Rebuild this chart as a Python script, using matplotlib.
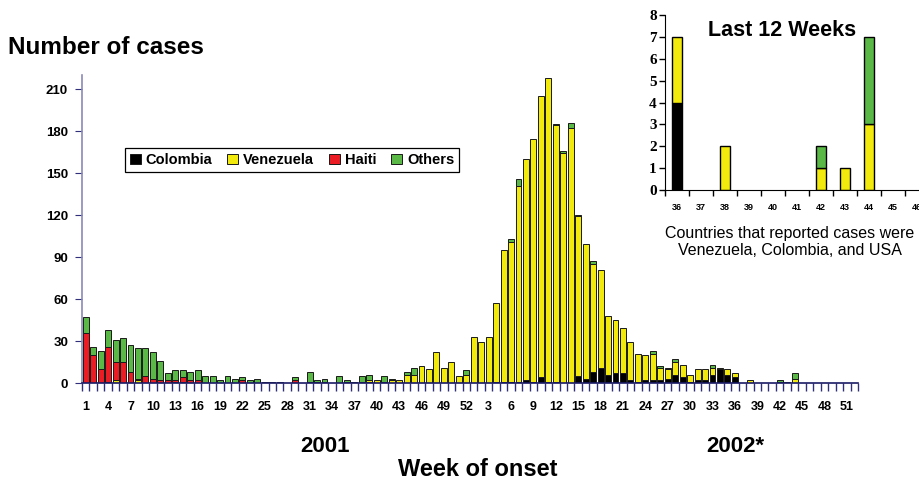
import matplotlib.pyplot as plt
import numpy as np

# weekly cases, weeks 1-52 of 2001 and 1-52 of 2002
colombia_2001 = [0, 0, 0, 0, 0, 0, 0, 0, 0, 0,
                 0, 0, 0, 0, 0, 0, 0, 0, 0, 0,
                 0, 0, 0, 0, 0, 0, 0, 0, 0, 0,
                 0, 1, 0, 0, 0, 0, 0, 0, 1, 0,
                 0, 0, 0, 0, 0, 0, 0, 0, 0, 0,
                 0, 0]
venezuela_2001 = [0, 0, 0, 1, 2, 0, 0, 2, 0, 0,
                  0, 0, 1, 1, 0, 0, 0, 0, 0, 0,
                  0, 0, 0, 0, 0, 0, 0, 0, 0, 0,
                  0, 0, 0, 0, 0, 1, 0, 1, 1, 2,
                  1, 2, 2, 6, 6, 12, 10, 22, 11, 15,
                  5, 6]
haiti_2001 = [36, 20, 10, 25, 13, 15, 8, 1, 5, 3,
              2, 2, 1, 3, 2, 2, 0, 0, 0, 0,
              0, 2, 0, 0, 0, 0, 0, 0, 2, 0,
              1, 0, 1, 0, 0, 0, 0, 0, 0, 0,
              0, 0, 0, 0, 0, 0, 0, 0, 0, 0,
              0, 0]
others_2001 = [11, 6, 13, 12, 16, 17, 19, 22, 20, 19,
               14, 5, 7, 5, 6, 7, 5, 5, 2, 5,
               3, 2, 2, 3, 1, 1, 1, 0, 2, 0,
               7, 1, 2, 0, 5, 1, 1, 4, 4, 0,
               4, 1, 0, 2, 5, 0, 0, 0, 0, 0,
               0, 3]

colombia_2002 = [0, 0, 0, 1, 1, 1, 1, 2, 1, 4,
                 1, 1, 0, 0, 5, 3, 8, 11, 6, 7,
                 7, 2, 1, 2, 2, 2, 3, 6, 4, 1,
                 2, 2, 6, 10, 6, 4, 0, 0, 0, 0,
                 0, 0, 0, 0, 0, 0, 0, 0, 0, 0,
                 0, 0]
venezuela_2002 = [33, 29, 33, 56, 94, 100, 140, 158, 173, 201,
                  217, 183, 164, 182, 114, 96, 77, 70, 42, 38,
                  32, 27, 20, 18, 19, 9, 7, 9, 9, 5,
                  8, 8, 5, 1, 4, 3, 0, 2, 0, 0,
                  0, 1, 1, 3, 0, 0, 0, 0, 0, 0,
                  0, 0]
haiti_2002 = [0] * 52
others_2002 = [0, 0, 0, 0, 0, 2, 5, 0, 0, 0,
               0, 1, 2, 4, 1, 0, 2, 0, 0, 0,
               0, 0, 0, 0, 2, 1, 1, 2, 0, 0,
               0, 0, 2, 0, 0, 0, 0, 0, 0, 0,
               0, 1, 0, 4, 0, 0, 0, 0, 0, 0,
               0, 0]

weeks = list(range(1, 53)) + list(range(1, 53))
countries = ['Colombia', 'Venezuela', 'Haiti', 'Others']
colors = ['#000000', '#f2ea0c', '#ec1c24', '#5ab946']

# inset: last 12 weeks of 2002
inset_weeks = list(range(36, 48))

series = [colombia_2001 + colombia_2002,
          venezuela_2001 + venezuela_2002,
          haiti_2001 + haiti_2002,
          others_2001 + others_2002]

plt.rcParams['font.family'] = ['Liberation Sans', 'DejaVu Sans']
plt.rcParams['font.weight'] = 'bold'

W, H = 920, 483
fig = plt.figure(figsize=(W / 100, H / 100), dpi=100)


def fx(px):
    return px / W


def fy(py):
    return 1 - py / H


def stacked(axis, xs, data, width, lw, edge):
    bottom = np.zeros(len(xs))
    out = []
    for name, vals, col in zip(countries, data, colors):
        vals = np.array(vals, dtype=float)
        keep = vals > 0  # no outline for empty segments
        b = axis.bar(xs[keep], vals[keep], width, bottom=bottom[keep], color=col,
                     edgecolor=edge, linewidth=lw, label=name)
        out.append(b)
        bottom += vals
    return out


ax = fig.add_axes([fx(82), fy(383), 776 / W, 308 / H])
x = np.arange(len(weeks))
handles = stacked(ax, x, series, 0.8, 0.7, '#1a1a1a')

ax.set_xlim(-0.5, len(weeks) - 0.5)
ax.set_ylim(0, 220)
ax.set_yticks(range(0, 211, 30))
ax.set_xticks(x[::3])
ax.set_xticklabels([str(weeks[i]) for i in x[::3]])
ax.set_xticks(np.arange(-0.5, len(weeks), 1), minor=True)
ax.tick_params(axis='x', which='major', length=0, pad=13, labelsize=9)
ax.tick_params(axis='x', which='minor', length=6, color='#30307a', width=1)
ax.tick_params(axis='y', length=5, color='#30307a', pad=5, labelsize=9.5)
for s in ['top', 'right']:
    ax.spines[s].set_visible(False)
ax.spines['bottom'].set_color('#1a1a66')
ax.spines['bottom'].set_linewidth(1.2)
ax.spines['left'].set_color('#8a8ab8')
ax.spines['left'].set_linewidth(1.2)

leg = ax.legend(handles=handles, loc='center', ncol=4,
                bbox_to_anchor=(fx(292), fy(160)), bbox_transform=fig.transFigure,
                fontsize=10.5, handlelength=0.75, handleheight=0.75,
                handletextpad=0.35, columnspacing=1.0, fancybox=False,
                borderpad=0.35, framealpha=1)
leg.get_frame().set_edgecolor('black')
leg.get_frame().set_linewidth(0.9)

fig.text(fx(8), fy(48), 'Number of cases', fontsize=17.5, fontweight='bold',
         ha='left', va='center')
fig.text(fx(325), fy(447), '2001', fontsize=16, fontweight='bold',
         ha='center', va='center')
fig.text(fx(735), fy(447), '2002*', fontsize=16, fontweight='bold',
         ha='center', va='center')
fig.text(fx(478), fy(469), 'Week of onset', fontsize=17, fontweight='bold',
         ha='center', va='center')

# inset axes (runs off the right edge like the original)
ins = fig.add_axes([fx(665), fy(190), 288 / W, 175 / H])
xi = np.arange(len(inset_weeks))
lo, hi = 52 + inset_weeks[0] - 1, 52 + inset_weeks[-1]
stacked(ins, xi, [s[lo:hi] for s in series], 0.43, 1, 'black')
ins.set_xlim(-0.5, len(inset_weeks) - 0.5)
ins.set_ylim(0, 8)
ins.set_yticks(range(0, 9))
ins.set_yticklabels([str(v) for v in range(0, 9)],
                    fontfamily='Liberation Serif', fontweight='bold', fontsize=11)
ins.set_xticks(xi)
ins.set_xticklabels([str(w) for w in inset_weeks], fontsize=6.5)
ins.set_xticks(np.arange(-0.5, len(inset_weeks), 1), minor=True)
ins.tick_params(axis='x', which='major', length=0, pad=9)
ins.tick_params(axis='x', which='minor', length=4, width=1)
ins.tick_params(axis='y', length=4, width=1, pad=2)
for s in ['top', 'right']:
    ins.spines[s].set_visible(False)
ins.patch.set_alpha(0)

fig.text(fx(782), fy(30), 'Last 12 Weeks', fontsize=15.5, fontweight='bold',
         ha='center', va='center')
fig.text(fx(790), fy(242),
         'Countries that reported cases were\nVenezuela, Colombia, and USA',
         fontsize=11.5, fontweight='normal', ha='center', va='center',
         linespacing=1.15)

fig.savefig('out.png', dpi=100)
